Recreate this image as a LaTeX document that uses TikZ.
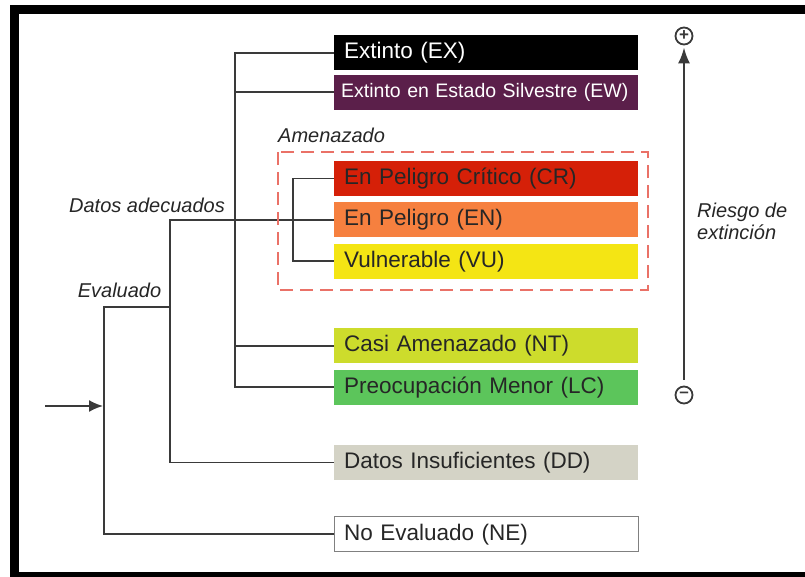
\documentclass[tikz,border=0pt]{standalone}
\usepackage{fontspec}
\setmainfont{Liberation Sans}
\usepackage{xcolor}
\usetikzlibrary{positioning}
\usetikzlibrary{arrows.meta}

\definecolor{cEW}{HTML}{5B1F4A}
\definecolor{cCR}{HTML}{D52008}
\definecolor{cEN}{HTML}{F6803F}
\definecolor{cVU}{HTML}{F4E514}
\definecolor{cNT}{HTML}{CDDC2C}
\definecolor{cLC}{HTML}{5CC55B}
\definecolor{cDD}{HTML}{D4D3C6}
\definecolor{cAM}{HTML}{EA7167}
\definecolor{linea}{HTML}{3A3A3A}

\begin{document}
\begin{tikzpicture}
    [
    x=1pt, y=-1pt,
    node distance=6pt,
    cat/.style={shape=rectangle, anchor=north west, minimum height=35pt, text width=284pt, inner xsep=10pt, inner ysep=0pt, align=left, text=black!85, font=\fontsize{22.5}{26}\selectfont},
    lbl/.style={font=\fontsize{20}{22}\selectfont\itshape, text=black!85, inner sep=0pt},
    rama/.style={draw=linea, line width=1.8pt},
    signo/.style={circle, draw=linea, line width=1.8pt, minimum size=17pt, inner sep=0pt, text=linea, font=\bfseries\fontsize{17}{17}\selectfont},
    ]
    \clip (0,0) rectangle (805,576);
    % % marco
    \draw[line width=9pt] (14.5,9.5) rectangle (820,576.5);
    %
    \node[cat, fill=black, text=white] (ex) at (334,35) {Extinto (EX)};
    \node[cat, fill=cEW, text=white, text width=290pt, inner xsep=7pt, font=\fontsize{19.5}{24}\selectfont, below=4pt of ex] (ew) {Extinto en Estado Silvestre (EW)};
    \node[cat, fill=cCR, below=51pt of ew] (cr) {En Peligro Crítico (CR)};
    \node[cat, fill=cEN, below=of cr] (en) {En Peligro (EN)};
    \node[cat, fill=cVU, below=of en] (vu) {Vulnerable (VU)};
    \node[cat, fill=cNT, below=49pt of vu] (nt) {Casi Amenazado (NT)};
    \node[cat, fill=cLC, below=of nt] (lc) {Preocupación Menor (LC)};
    \node[cat, fill=cDD, below=40pt of lc] (dd) {Datos Insuficientes (DD)};
    \node[cat, draw=gray, line width=1.2pt, fill=white, below=36pt of dd] (ne) {No Evaluado (NE)};

    \node[lbl, anchor=west] (lamen) at (278,135) {Amenazado};
    \node[lbl] (ladq) at (147,205) {Datos adecuados};
    \node[lbl] (lev) at (119.5,290) {Evaluado};
    \node[lbl, anchor=west, align=left] (lriesgo) at (697,221) {Riesgo de\\extinción};

    \node[signo] (mas) at (684,36) {+};
    \node[signo] (menos) at (684,395) {\raisebox{1pt}{–}};
    %
    \coordinate (ev) at (104,307);
    \coordinate (entrada) at (45,406);
    \path (en.west) ++(-164,0) coordinate (adq) ++(65,0) coordinate (tr) ++(58,0) coordinate (am);
    %
    \draw[rama] (ne.west) -| (ev) -- (ev -| adq);
    \draw[rama] (dd.west) -| (adq) -- (en.west);
    \draw[rama] (ex.west) -| (tr) |- (lc.west);
    \draw[rama] (ew.west) -- (ew.west -| tr);
    \draw[rama] (nt.west) -- (nt.west -| tr);
    \draw[rama] (cr.west) -| (am) |- (vu.west);
    \draw[rama, shorten >=1pt, -{Latex[length=14pt, width=12pt]}] (entrada) -- (entrada -| ev);
    \draw[rama, line width=2.2pt, shorten <=6pt, shorten >=2pt, -{Latex[length=16pt, width=12pt]}] (menos) -- (mas);
    %
    \draw[cAM, line width=2.5pt, dash pattern=on 13pt off 7pt] (278,152) rectangle (648,290);
\end{tikzpicture}
\end{document}
